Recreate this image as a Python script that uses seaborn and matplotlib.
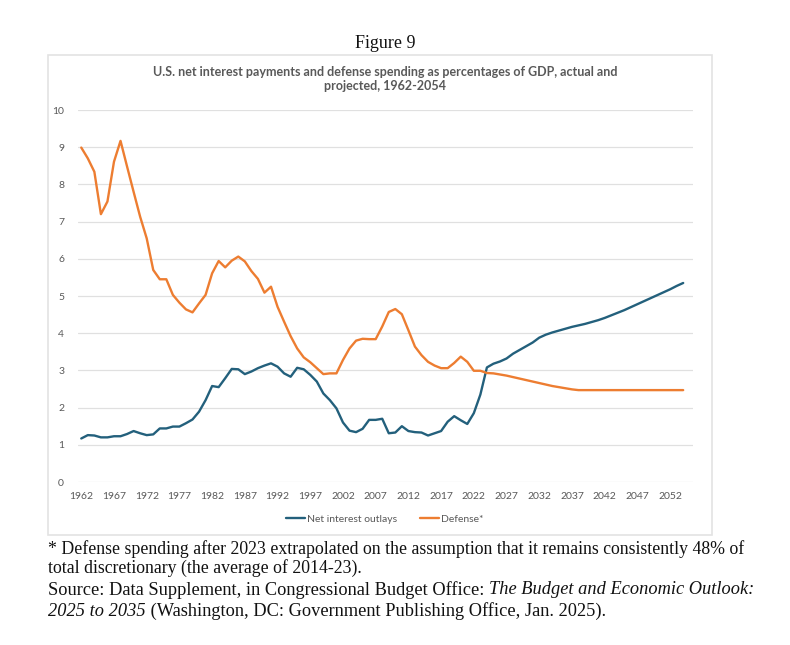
import numpy as np
import pandas as pd
import seaborn as sns
import matplotlib.pyplot as plt
from matplotlib.patches import Rectangle
from matplotlib.lines import Line2D

years = list(range(1962, 2055))

net_interest = [1.17, 1.26, 1.25, 1.20, 1.20, 1.23, 1.23, 1.29, 1.37, 1.31,
                1.26, 1.28, 1.44, 1.44, 1.49, 1.49, 1.58, 1.68, 1.89, 2.20,
                2.58, 2.55, 2.79, 3.04, 3.03, 2.90, 2.97, 3.06, 3.13, 3.19,
                3.10, 2.92, 2.83, 3.07, 3.03, 2.88, 2.70, 2.38, 2.20, 1.98,
                1.60, 1.38, 1.34, 1.43, 1.67, 1.67, 1.70, 1.31, 1.33, 1.50,
                1.37, 1.34, 1.33, 1.25, 1.31, 1.37, 1.62, 1.77, 1.66, 1.56,
                1.85, 2.35, 3.08, 3.18, 3.24, 3.32, 3.45, 3.55, 3.65, 3.75,
                3.88, 3.96, 4.02, 4.07, 4.12, 4.17, 4.21, 4.25, 4.30, 4.35,
                4.41, 4.48, 4.55, 4.62, 4.70, 4.78, 4.86, 4.94, 5.02, 5.10,
                5.18, 5.27, 5.35]

defense = [8.99, 8.70, 8.34, 7.20, 7.54, 8.61, 9.17, 8.48, 7.80, 7.13,
           6.55, 5.70, 5.45, 5.45, 5.03, 4.82, 4.64, 4.56, 4.80, 5.03,
           5.61, 5.94, 5.77, 5.95, 6.06, 5.93, 5.67, 5.46, 5.09, 5.25,
           4.71, 4.31, 3.92, 3.59, 3.35, 3.22, 3.06, 2.90, 2.92, 2.92,
           3.28, 3.59, 3.80, 3.85, 3.84, 3.84, 4.18, 4.57, 4.65, 4.51,
           4.08, 3.64, 3.41, 3.23, 3.13, 3.06, 3.06, 3.20, 3.37, 3.23,
           2.99, 2.99, 2.93, 2.92, 2.89, 2.86, 2.82, 2.78, 2.74, 2.70,
           2.66, 2.62, 2.58, 2.55, 2.52, 2.49, 2.47, 2.47, 2.47, 2.47,
           2.47, 2.47, 2.47, 2.47, 2.47, 2.47, 2.47, 2.47, 2.47, 2.47,
           2.47, 2.47, 2.47]

series_names = ['Net interest outlays', 'Defense*']
colors = ['#23607c', '#ed7d31']

df = pd.DataFrame({'year': years * 2,
                   'value': net_interest + defense,
                   'series': [series_names[0]] * len(years) + [series_names[1]] * len(years)})

sns.set_style('white')
plt.rcParams['font.family'] = ['Lato', 'DejaVu Sans']

W, H = 790, 645
fig = plt.figure(figsize=(W / 100, H / 100), dpi=100)

# chart frame
fig.patches.append(Rectangle((48 / W, 1 - 535 / H), (712 - 48) / W, (535 - 55) / H,
                             transform=fig.transFigure, fill=False,
                             edgecolor='#e3e3e3', lw=1.2))

ax = fig.add_axes([78 / W, 1 - 482 / H, (693 - 78) / W, (482 - 110) / H])
sns.lineplot(data=df, x='year', y='value', hue='series', palette=colors,
             linewidth=1.7, legend=False, ax=ax)

ax.set_xlim(1961.5, 2055.5)
ax.set_ylim(0, 10)
ax.set_yticks(range(0, 11))
ax.set_xticks(range(1962, 2055, 5))
ax.tick_params(length=0, labelsize=7.5, labelcolor='#595959')
ax.tick_params(axis='y', pad=10)
ax.tick_params(axis='x', pad=7)
ax.grid(axis='y', color='#e0e0e0', lw=0.9)
ax.set_axisbelow(True)
for s in ax.spines.values():
    s.set_visible(False)
ax.set_xlabel('')
ax.set_ylabel('')

fig.text(385 / W, 1 - 43 / H, 'Figure 9', ha='center', va='center',
         fontsize=13, family='Liberation Serif', color='#111111')
fig.text(385 / W, 1 - 79 / H,
         'U.S. net interest payments and defense spending as percentages of GDP, actual and\nprojected, 1962-2054',
         ha='center', va='center', fontsize=9, fontweight='bold', color='#595959',
         linespacing=1.3)

handles = [Line2D([], [], color=c, lw=1.7) for c in colors]
fig.legend(handles, series_names, loc='center', bbox_to_anchor=(385 / W, 1 - 519 / H),
           ncol=2, frameon=False, fontsize=7.5, labelcolor='#595959',
           handlelength=1.8, handletextpad=0.2, columnspacing=2.2)

serif = 'Liberation Serif'
fig.text(48 / W, 1 - 549 / H,
         '* Defense spending after 2023 extrapolated on the assumption that it remains consistently 48% of',
         fontsize=12.8, family=serif, va='center', color='#111111')
fig.text(48 / W, 1 - 568 / H, 'total discretionary (the average of 2014-23).',
         fontsize=12.8, family=serif, va='center', color='#111111')
t = fig.text(48 / W, 1 - 590 / H,
             'Source: Data Supplement, in Congressional Budget Office: ',
             fontsize=13.2, family=serif, va='center', color='#111111')
fig.canvas.draw()
bb = t.get_window_extent()
fig.text(bb.x1 / W, 1 - 590 / H, 'The Budget and Economic Outlook:',
         fontsize=13.2, family=serif, style='italic', va='center', color='#111111')
t2 = fig.text(48 / W, 1 - 611 / H, '2025 to 2035',
              fontsize=13.2, family=serif, style='italic', va='center', color='#111111')
fig.canvas.draw()
bb2 = t2.get_window_extent()
fig.text(bb2.x1 / W, 1 - 611 / H,
         ' (Washington, DC: Government Publishing Office, Jan. 2025).',
         fontsize=13.2, family=serif, va='center', color='#111111')

fig.savefig('out.png', dpi=100)
